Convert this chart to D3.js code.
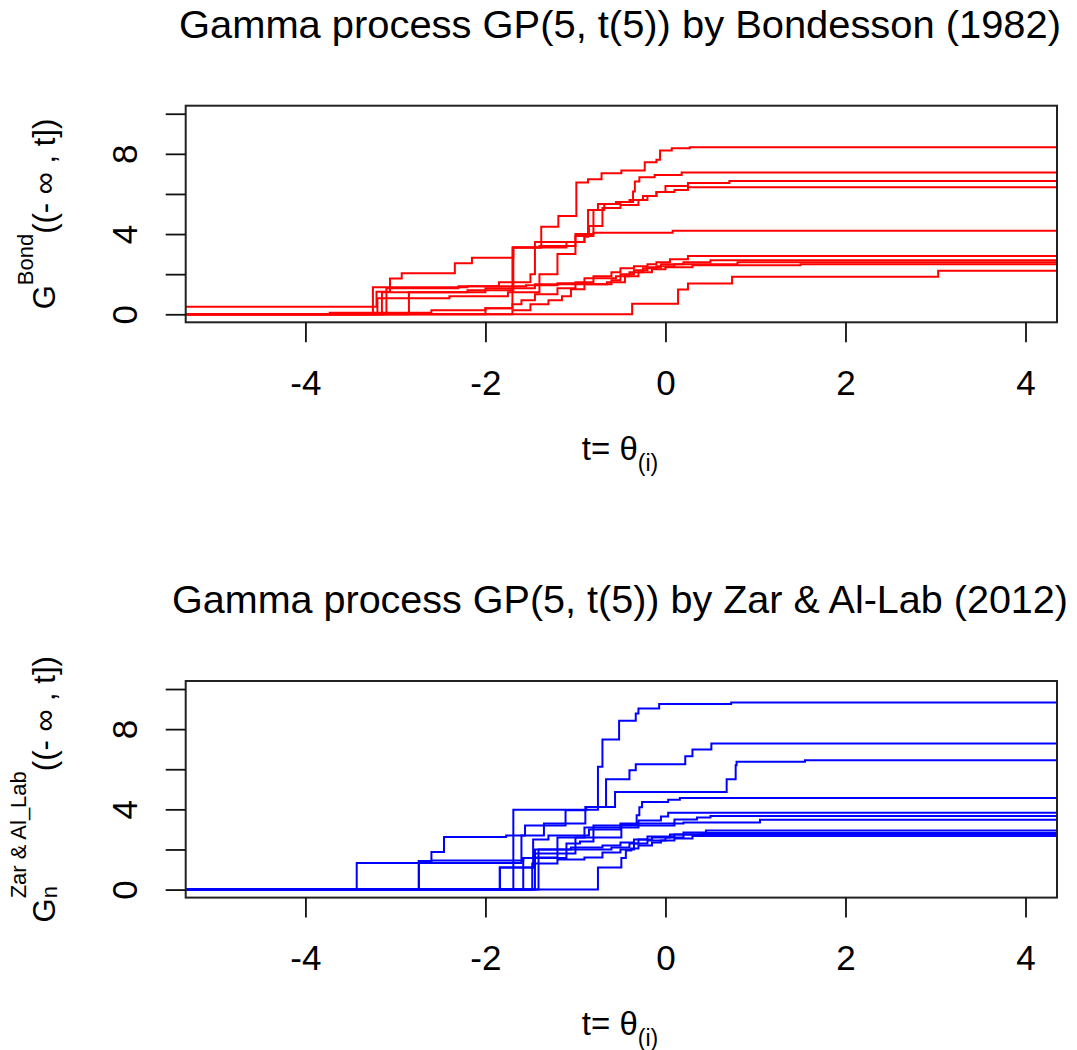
<!DOCTYPE html>
<html><head><meta charset="utf-8">
<script src="https://cdn.jsdelivr.net/npm/d3@7"></script>
<style>
body{margin:0;background:#fff}
text{font-family:"Liberation Sans",Arial,sans-serif;fill:#000}
</style></head>
<body><svg id="c" width="1077" height="1050"></svg>
<script>
// ---------- data ----------
const xTicks = [-4, -2, 0, 2, 4];
const yTicks = [0, 2, 4, 6, 8, 10];
const yTickLabels = [0, 4, 8];
const xDomain = [-5.33, 4.35];
const yDomain = [-0.4, 10.4];
const titles = ["Gamma process GP(5, t(5)) by Bondesson (1982)",
                "Gamma process GP(5, t(5)) by Zar & Al-Lab (2012)"];
const titleWidths = [882, 896];

// Bondesson paths: [t, value after jump]
const bond1 = [[-5.4,0.37],[-3.21,1.12],[-3.06,1.78],[-2.93,2.05],[-2.34,2.55],[-2.15,2.82],[-1.69,3.33],[-1.38,4.37],[-1.19,4.9],[-0.99,6.57],[-0.86,6.73],[-0.71,7.03],[-0.49,7.17],[-0.23,7.58],[-0.10,7.7],[-0.06,8.17],[0.07,8.28],[0.27,8.33]];
const bond2 = [[-5.4,0],[-3.15,1.1],[-2.2,1.2],[-1.69,3.33],[-1.1,3.6],[-0.9,3.87],[-0.86,5.2],[-0.75,5.5],[-0.5,5.6],[-0.36,6.12],[-0.34,6.62],[-0.29,6.83],[-0.12,6.95],[0.18,7.07]];
const bond3 = [[-5.4,0],[-3.1,1.3],[-2.3,1.4],[-1.85,1.6],[-1.5,2.0],[-1.45,3.6],[-1.0,3.9],[-0.8,5.2],[-0.68,5.5],[-0.55,5.6],[-0.4,5.7],[-0.25,5.9],[-0.1,6.1],[0.0,6.4],[0.25,6.55],[0.71,6.65]];
const bond4 = [[-5.4,0],[-3.2,0.8],[-2.4,0.9],[-1.75,1.1],[-1.4,2.0],[-1.2,3.0],[-1.0,4.0],[-0.85,4.4],[-0.7,5.3],[-0.5,5.45],[-0.3,5.7],[-0.2,5.9],[-0.1,6.1],[0.1,6.2],[0.25,6.33]];
const bond5 = [[-5.4,0],[-3.73,0.08],[-2.6,0.2],[-2.0,0.3],[-1.7,3.33],[-1.4,3.4],[-1.0,3.6],[-0.9,4.0],[-0.8,4.07],[0.08,4.17]];
const bond6 = [[-5.4,0],[-2.85,1.1],[-2.0,1.3],[-1.45,1.5],[-1.0,1.6],[-0.8,1.9],[-0.6,2.1],[-0.5,2.3],[-0.35,2.4],[-0.2,2.5],[-0.1,2.6],[0.05,2.75],[0.25,2.9]];
const bond7 = [[-5.4,0],[-2.0,0.3],[-1.7,0.5],[-1.6,0.7],[-1.45,1.0],[-1.2,1.3],[-1.0,1.5],[-0.6,1.7],[-0.5,2.0],[-0.35,2.2],[-0.2,2.35],[-0.05,2.5],[0.2,2.6],[0.5,2.7]];
const bond8 = [[-5.4,0],[-3.25,1.35],[-2.2,1.4],[-1.55,1.45],[-1.2,1.55],[-0.9,1.8],[-0.55,1.9],[-0.4,2.1],[-0.25,2.3],[-0.1,2.4],[0.1,2.5],[0.8,2.6]];
const bond9 = [[-5.4,0],[-1.7,0.2],[-1.5,0.5],[-1.3,0.7],[-1.15,0.9],[-1.05,1.25],[-0.9,1.5],[-0.65,1.6],[-0.45,1.9],[-0.3,2.1],[-0.15,2.25],[0.0,2.35],[0.3,2.45],[1.5,2.5]];
const bond10 = [[-5.4,0],[-0.37,0.53],[0.14,1.23],[0.25,1.53],[0.74,1.87],[3.03,2.17]];

// Zar & Al-Lab paths
const zar1 = [[-5.4,0],[-1.69,3.98],[-0.75,6.12],[-0.70,7.48],[-0.515,8.42],[-0.33,8.78],[-0.30,9.03],[-0.07,9.25],[0.73,9.33]];
const zar2 = [[-5.4,0],[-2.74,1.43],[-2.6,1.87],[-2.46,2.62],[-1.77,2.7],[-1.56,3.2],[-1.11,3.95],[-0.88,4.12],[-0.66,5.5],[-0.40,5.95],[-0.33,6.25],[0.22,6.65],[0.30,6.98],[0.51,7.28]];
const zar3 = [[-5.4,0],[-3.43,1.33],[-1.6,2.7],[-1.35,3.3],[-0.89,4.12],[-0.56,4.87],[0.68,5.5],[0.78,6.2],[0.79,6.37],[1.55,6.45]];
const zar4 = [[-5.4,0],[-1.84,1.1],[-1.45,2.0],[-1.0,2.6],[-0.49,3.25],[-0.32,3.7],[-0.29,4.1],[-0.26,4.37],[0.03,4.48],[0.16,4.57]];
const zar5 = [[-5.4,0],[-2.74,1.4],[-2.6,1.45],[-1.58,1.57],[-1.1,2.3],[-0.95,2.4],[-0.8,3.2],[-0.5,3.3],[-0.3,3.45],[-0.05,3.65],[0.03,3.83]];
const zar6 = [[-5.4,0],[-1.84,1.1],[-1.47,1.6],[-1.2,2.6],[-0.9,3.1],[-0.3,3.3],[0.1,3.5],[0.35,3.6],[0.5,3.67]];
const zar7 = [[-5.4,0],[-1.58,1.57],[-1.47,2.5],[-1.3,2.7],[-0.85,3.0],[-0.5,3.2],[0.1,3.3],[0.2,3.35],[1.05,3.48]];
const zar8 = [[-5.4,0],[-1.45,1.8],[-1.0,2.0],[-0.6,2.1],[-0.4,2.3],[-0.3,2.5],[-0.15,2.6],[0.05,2.75],[0.2,2.85],[0.45,2.95]];
const zar9 = [[-5.4,0],[-1.41,2.0],[-1.05,2.1],[-0.7,2.2],[-0.5,2.35],[-0.35,2.5],[-0.2,2.65],[0.1,2.75],[0.4,2.82]];
const zar10 = [[-5.4,0],[-0.75,1.1],[-0.49,1.57],[-0.44,1.95],[-0.38,2.05],[-0.3,2.2],[-0.15,2.35],[-0.05,2.45],[0.1,2.55],[0.3,2.67]];
const zar11 = [[-5.4,0],[-1.48,1.3],[-1.2,1.5],[-0.9,1.6],[-0.7,1.85],[-0.5,2.0],[-0.35,2.3],[-0.2,2.45],[0.0,2.6],[0.2,2.75]];

const bondPaths = [bond1,bond2,bond3,bond4,bond5,bond6,bond7,bond8,bond9,bond10];
const zarPaths = [zar1,zar2,zar3,zar4,zar5,zar6,zar7,zar8,zar9,zar10,zar11];

// ---------- layout ----------
const svg = d3.select("#c");
const L = 185.7, R = 1057;
const FONT = '"Liberation Sans",Arial,sans-serif';
const x = d3.scaleLinear().domain(xDomain).range([L, R]);

function panel(idx, top, paths, color, labelFn){
  const bottom = top + 216.6;
  const y = d3.scaleLinear().domain(yDomain).range([bottom, top]);
  const g = svg.append("g");
  const clipId = "clip" + idx;
  svg.append("clipPath").attr("id", clipId).append("rect")
     .attr("x", L).attr("y", top).attr("width", R - L).attr("height", bottom - top);

  const line = d3.line().x(d => x(d[0])).y(d => y(d[1])).curve(d3.curveStepAfter);
  g.append("g").attr("clip-path", `url(#${clipId})`)
    .selectAll("path").data(paths).join("path")
    .attr("d", p => line(p.concat([[xDomain[1] + 0.1, p[p.length-1][1]]])))
    .attr("fill", "none").attr("stroke", color).attr("stroke-width", 2);

  // box
  g.append("rect").attr("x", L).attr("y", top).attr("width", R - L).attr("height", bottom - top)
    .attr("fill", "none").attr("stroke", "#222").attr("stroke-width", 2);

  // x axis
  const xa = g.append("g").attr("transform", `translate(0,${bottom})`)
    .call(d3.axisBottom(x).tickValues(xTicks).tickSize(20).tickSizeOuter(0).tickFormat(d => String(d)));
  xa.select(".domain").remove();
  xa.selectAll(".tick line").attr("stroke", "#111").attr("stroke-width", 1.8);
  xa.selectAll(".tick text").attr("y", 72.7).attr("dy", 0)
    .style("font-size", "35px").style("font-family", FONT).attr("fill", "#000");

  // y axis
  const ya = g.append("g").attr("transform", `translate(${L},0)`)
    .call(d3.axisLeft(y).tickValues(yTicks).tickSize(20).tickSizeOuter(0)
      .tickFormat(d => yTickLabels.includes(d) ? String(d) : ""));
  ya.select(".domain").remove();
  ya.selectAll(".tick line").attr("stroke", "#111").attr("stroke-width", 1.8);
  ya.selectAll(".tick text").attr("x", 0).attr("y", -48.7).attr("dy", 0)
    .attr("transform", "rotate(-90)").attr("text-anchor", "middle")
    .style("font-size", "35px").style("font-family", FONT).attr("fill", "#000");

  // title
  svg.append("text").attr("x", 620).attr("y", top - 68).attr("text-anchor", "middle")
    .style("font-size", "39px")
    .attr("textLength", titleWidths[idx]).attr("lengthAdjust", "spacingAndGlyphs")
    .text(titles[idx]);

  // x label
  const xl = svg.append("text").attr("x", 620).attr("y", bottom + 137.7).attr("text-anchor", "middle")
    .style("font-size", "33px");
  xl.append("tspan").text("t= \u03b8");
  xl.append("tspan").attr("dy", 11).style("font-size", "23px").text("(i)");

  labelFn((top + bottom) / 2);
}

// rotated y label built from pieces
function yLabel(cy, baseX, pieces){
  const g = svg.append("g").attr("transform", `translate(${baseX},${cy}) rotate(-90)`);
  let cursor = 0;
  const els = [];
  pieces.forEach(p => {
    const t = g.append("text").attr("y", p.dy).style("font-size", p.size + "px").text(p.text);
    const w = t.node().getComputedTextLength();
    els.push({t, w, stack: p.stack});
  });
  const xs = [];
  let prevStart = 0, prevW = 0;
  els.forEach(e => {
    if (e.stack) { xs.push(prevStart); prevW = Math.max(prevW, e.w); cursor = prevStart + prevW; }
    else { xs.push(cursor); prevStart = cursor; prevW = e.w; cursor += e.w; }
  });
  const total = cursor;
  els.forEach((e, i) => e.t.attr("x", xs[i] - total / 2));
}

panel(0, 105.7, bondPaths, "#ff0000", cy => yLabel(cy, 55, [
  {text: "G", size: 31, dy: 0},
  {text: "Bond", size: 22, dy: -22},
  {text: "((- \u221e , t])", size: 31, dy: 0}
]));
panel(1, 681, zarPaths, "#0000ff", cy => yLabel(cy, 55, [
  {text: "G", size: 31, dy: 0},
  {text: "n", size: 22, dy: 2},
  {text: "Zar & Al_Lab", size: 22, dy: -29, stack: true},
  {text: "((- \u221e , t])", size: 31, dy: 0}
]));
</script></body></html>
